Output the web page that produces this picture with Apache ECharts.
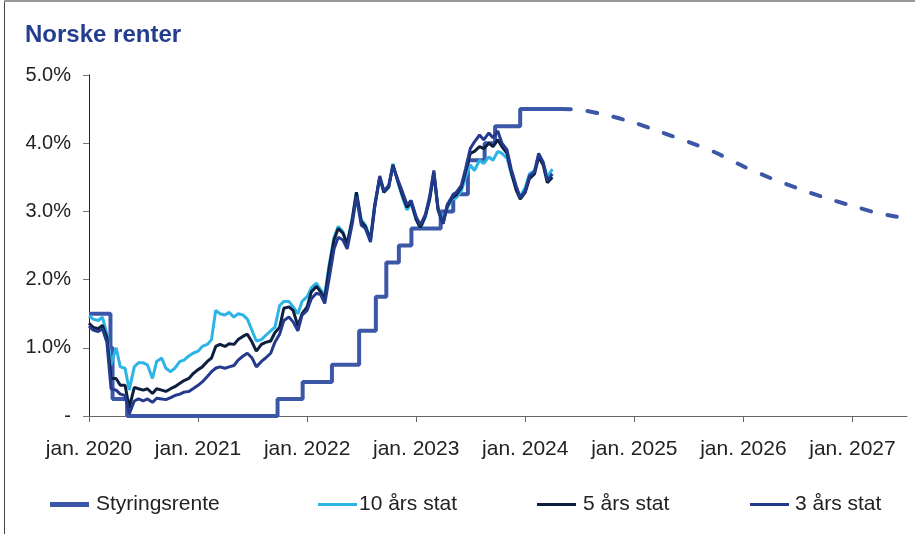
<!DOCTYPE html>
<html>
<head>
<meta charset="utf-8">
<script src="https://cdn.jsdelivr.net/npm/echarts@6/dist/echarts.min.js"></script>
<style>
  html, body { margin: 0; padding: 0; background: #fff; }
  #chart { width: 915px; height: 534px; }
</style>
</head>
<body>
<div id="chart"></div>
<script>
// statsrenter, avlest omtrent hver halve måned
const bondDates = [
  '2020-01-01','2020-01-15','2020-02-01','2020-02-15','2020-03-01','2020-03-15','2020-04-01','2020-04-15','2020-05-01','2020-05-15',
  '2020-06-01','2020-06-15','2020-07-01','2020-07-15','2020-08-01','2020-08-15','2020-09-01','2020-09-15','2020-10-01','2020-10-15',
  '2020-11-01','2020-11-15','2020-12-01','2020-12-15','2021-01-01','2021-01-15','2021-02-01','2021-02-15','2021-03-01','2021-03-15',
  '2021-04-01','2021-04-15','2021-05-01','2021-05-15','2021-06-01','2021-06-15','2021-07-01','2021-07-15','2021-08-01','2021-08-15',
  '2021-09-01','2021-09-15','2021-10-01','2021-10-15','2021-11-01','2021-11-15','2021-12-01','2021-12-15','2022-01-01','2022-01-15',
  '2022-02-01','2022-02-15','2022-03-01','2022-03-15','2022-04-01','2022-04-15','2022-05-01','2022-05-15','2022-06-01','2022-06-15',
  '2022-07-01','2022-07-15','2022-08-01','2022-08-15','2022-09-01','2022-09-15','2022-10-01','2022-10-15','2022-11-01','2022-11-15',
  '2022-12-01','2022-12-15','2023-01-01','2023-01-15','2023-02-01','2023-02-15','2023-03-01','2023-03-15','2023-04-01','2023-04-15',
  '2023-05-01','2023-05-15','2023-06-01','2023-06-15','2023-07-01','2023-07-15','2023-08-01','2023-08-15','2023-09-01','2023-09-15',
  '2023-10-01','2023-10-15','2023-11-01','2023-11-15','2023-12-01','2023-12-15','2024-01-01','2024-01-15','2024-02-01','2024-02-15',
  '2024-03-01','2024-03-15','2024-04-01'
];

const stat10 = [
  1.47, 1.42, 1.40, 1.45, 1.20, 0.75, 1.00, 0.72, 0.70, 0.38,
  0.72, 0.78, 0.78, 0.75, 0.55, 0.80, 0.85, 0.70, 0.65, 0.70,
  0.80, 0.82, 0.88, 0.92, 0.95, 1.02, 1.05, 1.12, 1.55, 1.50,
  1.48, 1.52, 1.45, 1.50, 1.48, 1.42, 1.25, 1.10, 1.12, 1.18,
  1.25, 1.30, 1.62, 1.68, 1.68, 1.60, 1.50, 1.68, 1.75, 1.88,
  1.95, 1.85, 1.78, 2.20, 2.62, 2.78, 2.70, 2.52, 2.90, 3.28,
  2.88, 2.80, 2.60, 3.10, 3.50, 3.28, 3.35, 3.70, 3.42, 3.22,
  3.02, 3.12, 2.88, 2.75, 2.92, 3.18, 3.55, 3.05, 2.88, 3.05,
  3.18, 3.20, 3.30, 3.50, 3.68, 3.60, 3.75, 3.70, 3.80, 3.75,
  3.88, 3.85, 3.78, 3.55, 3.35, 3.22, 3.35, 3.55, 3.60, 3.82,
  3.72, 3.50, 3.62
];

const stat5 = [
  1.36, 1.30, 1.28, 1.33, 1.15, 0.55, 0.55, 0.45, 0.45, 0.12,
  0.42, 0.40, 0.38, 0.40, 0.33, 0.40, 0.38, 0.36, 0.40, 0.43,
  0.48, 0.52, 0.55, 0.62, 0.68, 0.72, 0.80, 0.85, 1.02, 1.05,
  1.02, 1.06, 1.05, 1.12, 1.17, 1.20, 1.08, 0.95, 1.05, 1.08,
  1.10, 1.22, 1.30, 1.58, 1.60, 1.55, 1.32, 1.50, 1.60, 1.82,
  1.90, 1.82, 1.72, 2.15, 2.58, 2.75, 2.68, 2.52, 2.88, 3.28,
  2.85, 2.78, 2.58, 3.08, 3.50, 3.28, 3.36, 3.68, 3.44, 3.25,
  3.06, 3.14, 2.88, 2.76, 2.94, 3.18, 3.57, 3.02, 2.82, 3.08,
  3.20, 3.24, 3.35, 3.58, 3.85, 3.88, 3.95, 3.92, 4.00, 3.95,
  4.05, 3.95, 3.85, 3.58, 3.32, 3.18, 3.28, 3.48, 3.55, 3.80,
  3.68, 3.42, 3.50
];

const stat3 = [
  1.32, 1.26, 1.24, 1.28, 1.08, 0.40, 0.38, 0.32, 0.30, 0.03,
  0.22, 0.25, 0.22, 0.25, 0.20, 0.26, 0.25, 0.24, 0.27, 0.30,
  0.32, 0.35, 0.36, 0.40, 0.45, 0.50, 0.58, 0.65, 0.70, 0.72,
  0.70, 0.72, 0.74, 0.82, 0.88, 0.92, 0.85, 0.72, 0.80, 0.85,
  0.92, 1.08, 1.20, 1.40, 1.45, 1.38, 1.25, 1.48, 1.55, 1.72,
  1.80, 1.78, 1.65, 2.00, 2.45, 2.62, 2.58, 2.45, 2.82, 3.22,
  2.80, 2.75, 2.55, 3.05, 3.52, 3.30, 3.38, 3.66, 3.46, 3.30,
  3.10, 3.16, 2.92, 2.80, 2.96, 3.22, 3.60, 3.05, 2.82, 3.10,
  3.22, 3.28, 3.38, 3.62, 3.92, 4.02, 4.12, 4.05, 4.15, 4.08,
  4.18, 4.00, 3.90, 3.62, 3.38, 3.20, 3.30, 3.52, 3.58, 3.85,
  3.72, 3.45, 3.55
];

// styringsrenten, rentemøtedatoer
const policyDates = [
  '2020-01-01','2020-03-13','2020-03-20','2020-05-08','2021-09-24','2021-12-17','2022-03-25','2022-06-24',
  '2022-08-19','2022-09-23','2022-11-04','2022-12-16','2023-03-24','2023-05-05','2023-06-23','2023-08-18',
  '2023-09-22','2023-12-15','2024-05-01'
];
const policyRate = [1.5, 1.0, 0.25, 0, 0.25, 0.5, 0.75, 1.25, 1.75, 2.25, 2.5, 2.75, 3.0, 3.25, 3.75, 4.0, 4.25, 4.5, 4.5];

// rentebane (prognose, stiplet)
const forecastDates = [
  '2024-05-01','2024-07-01','2024-10-01','2025-01-01','2025-04-01','2025-07-01','2025-10-01',
  '2026-01-01','2026-04-01','2026-07-01','2026-10-01','2027-01-01','2027-04-01','2027-07-01'
];
const forecastRate = [4.50, 4.49, 4.41, 4.30, 4.16, 4.02, 3.86, 3.66, 3.49, 3.34, 3.20, 3.08, 2.97, 2.90];

const yearTicks = [2020, 2021, 2022, 2023, 2024, 2025, 2026, 2027];

const C_POLICY = '#3c57a8';
const C_10 = '#2cb4e7';
const C_5 = '#0d1f3f';
const C_3 = '#243a8d';
const FONT = '"Liberation Sans", Arial, sans-serif';

// dato -> desimalår, så x-aksen kan ha ett merke per januar
const toYear = s => {
  const [y, m, d] = s.split('-').map(Number);
  const a = Date.UTC(y, 0, 1), b = Date.UTC(y + 1, 0, 1);
  return y + (Date.UTC(y, m - 1, d) - a) / (b - a);
};
const pairs = (dates, vals) => dates.map((d, i) => [toYear(d), vals[i]]);

const chart = echarts.init(document.getElementById('chart'));

const legendItem = (name, left, h, gap) => ({
  data: [name],
  left: left,
  top: 494,
  padding: 0,
  icon: 'rect',
  itemWidth: 39,
  itemHeight: h,
  itemGap: 0,
  selectedMode: false,
  textStyle: { fontFamily: FONT, fontSize: 21, color: '#222', padding: [0, 0, 0, gap] }
});

chart.setOption({
  animation: false,
  backgroundColor: '#fff',
  title: {
    text: 'Norske renter',
    left: 20,
    top: 18,
    textStyle: { fontFamily: FONT, fontSize: 24, fontWeight: 'bold', color: '#243e8f' }
  },
  graphic: [
    { type: 'line', shape: { x1: 4.5, y1: 0, x2: 4.5, y2: 534 }, style: { stroke: '#444', lineWidth: 1 } },
    { type: 'line', shape: { x1: 4, y1: 1, x2: 915, y2: 1 }, style: { stroke: '#999', lineWidth: 2 } }
  ],
  legend: [
    legendItem('Styringsrente', 50, 5, 2),
    legendItem('10 års stat', 318, 3, -3),
    legendItem('5 års stat', 537, 3, 2),
    legendItem('3 års stat', 750, 3, 1)
  ],
  grid: { left: 89, right: 8, top: 75, bottom: 118, containLabel: false },
  xAxis: {
    type: 'value',
    min: 2020,
    max: 2027.5,
    interval: 1,
    splitLine: { show: false },
    axisLine: { show: true, onZero: false, lineStyle: { color: '#666', width: 1 } },
    axisTick: { show: true, length: 6, lineStyle: { color: '#666' }, customValues: yearTicks },
    axisLabel: {
      customValues: yearTicks,
      formatter: v => 'jan. ' + v,
      margin: 23,
      fontFamily: FONT, fontSize: 21, color: '#222'
    }
  },
  yAxis: {
    type: 'value',
    min: 0,
    max: 5,
    interval: 1,
    splitLine: { show: false },
    axisLine: { show: true, lineStyle: { color: '#222', width: 1 } },
    axisTick: { show: true, length: 6, lineStyle: { color: '#777' } },
    axisLabel: {
      formatter: v => v === 0 ? '-' : v.toFixed(1) + '%',
      margin: 18,
      fontFamily: FONT, fontSize: 20, color: '#222'
    }
  },
  series: [
    {
      name: 'Styringsrente',
      type: 'line',
      step: 'end',
      showSymbol: false,
      data: pairs(policyDates, policyRate),
      itemStyle: { color: C_POLICY },
      lineStyle: { color: C_POLICY, width: 4 },
      z: 2
    },
    {
      name: 'Styringsrente prognose',
      type: 'line',
      smooth: 0.3,
      showSymbol: false,
      data: pairs(forecastDates, forecastRate),
      lineStyle: { color: C_POLICY, width: 4, type: [9.5, 17], cap: 'round' },
      z: 2
    },
    {
      name: '10 års stat',
      type: 'line',
      showSymbol: false,
      data: pairs(bondDates, stat10),
      itemStyle: { color: C_10 },
      lineStyle: { color: C_10, width: 3 },
      z: 3
    },
    {
      name: '5 års stat',
      type: 'line',
      showSymbol: false,
      data: pairs(bondDates, stat5),
      itemStyle: { color: C_5 },
      lineStyle: { color: C_5, width: 3 },
      z: 4
    },
    {
      name: '3 års stat',
      type: 'line',
      showSymbol: false,
      data: pairs(bondDates, stat3),
      itemStyle: { color: C_3 },
      lineStyle: { color: C_3, width: 3 },
      z: 5
    }
  ]
});
</script>
</body>
</html>
